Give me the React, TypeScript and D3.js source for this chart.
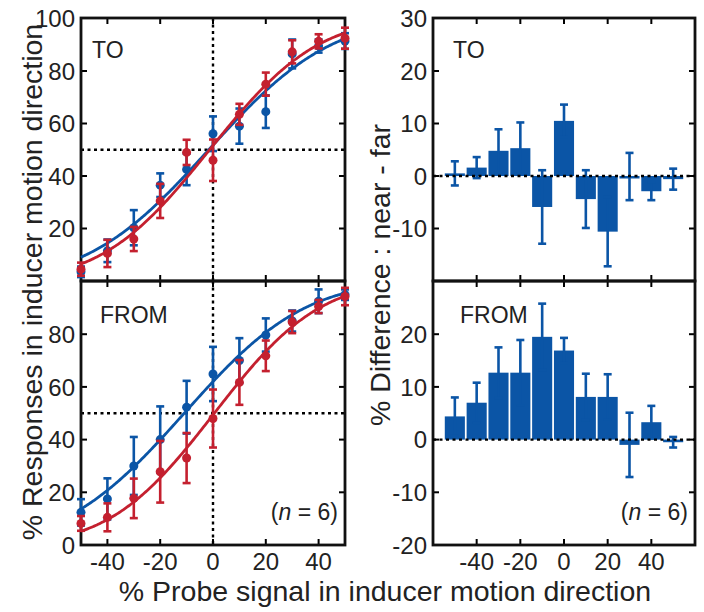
import React from 'react';
import * as d3 from 'd3';

// ---------- data ----------
const probeSignal = [-50, -40, -30, -20, -10, 0, 10, 20, 30, 40, 50];

// Left panels: % responses in inducer motion direction (blue = near, red = far)
const toBlue = [3.5, 11.5, 20.3, 36.5, 42.5, 56.1, 59, 64.5, 86.5, 89.5, 91.4];
const toBlueErr = [2, 4.3, 6.7, 4.5, 6, 6.6, 6.7, 6.2, 5.5, 2.5, 3];
const toRed = [4.5, 10.5, 16, 30.5, 49, 46, 63.5, 75, 87.3, 91.3, 92.5];
const toRedErr = [2.5, 5.2, 4.6, 6.5, 4.8, 7.9, 4, 4.4, 4.4, 2.7, 4];

const fromBlue = [12.4, 17.5, 30, 40, 52.3, 64.9, 70, 79.7, 85, 92.5, 95];
const fromBlueErr = [5, 7.8, 11, 12.6, 10, 10.3, 8.5, 6.3, 4, 4.5, 2];
const fromRed = [8.2, 10.5, 17.7, 27.8, 33, 48, 61.7, 71.8, 84.6, 90.5, 94.3];
const fromRedErr = [2.8, 5.3, 7.5, 11.7, 9.5, 11, 8.5, 5.8, 4.2, 2.5, 3.3];

// Psychometric fits (cumulative Gaussian): [mu, sigma]
const toBlueFit = [-1.6, 36.2];
const toRedFit = [-1.3, 32.1];
const fromBlueFit = [-10.9, 35.7];
const fromRedFit = [0.5, 31.1];

// Right panels: % difference near - far
const toDiff = [0.5, 1.6, 4.8, 5.3, -5.9, 10.5, -4.4, -10.6, -0.1, -2.9, -0.6];
const toDiffErr = [2.3, 2, 4.1, 4.9, 7, 3.1, 5.5, 6.6, 4.5, 1.7, 2];
const fromDiff = [4.4, 7, 12.7, 12.7, 19.5, 16.9, 8.1, 8.1, -1, 3.3, -0.5];
const fromDiffErr = [3.6, 3.8, 4.8, 6.2, 6.3, 2.4, 4.4, 4.3, 6.1, 3.1, 1];

const xTicks = [-40, -20, 0, 20, 40];
const leftYTicksTop = [20, 40, 60, 80, 100];
const leftYTicksBottom = [0, 20, 40, 60, 80];
const rightYTicksTop = [-10, 0, 10, 20, 30];
const rightYTicksBottom = [-20, -10, 0, 10, 20];

const xLabel = '% Probe signal in inducer motion direction';
const yLabelLeft = '% Responses in inducer motion direction';
const yLabelRight = '% Difference : near - far';

// ---------- style ----------
const BLUE = '#0b55a6';
const RED = '#c4202f';
const FONT = '"Liberation Sans", Arial, Helvetica, sans-serif';
const DASH = '3,3.5';

const W = 704;
const H = 612;
const LX = [81, 345];
const RX = [433, 695];
const ROWS = [[18, 281], [281, 545]];

function erf(x: number) {
  const s = x < 0 ? -1 : 1;
  const a = Math.abs(x);
  const t = 1 / (1 + 0.3275911 * a);
  const y = 1 - (((((1.061405429 * t - 1.453152027) * t) + 1.421413741) * t - 0.284496736) * t + 0.254829592) * t * Math.exp(-a * a);
  return s * y;
}
const normCdf = (z: number) => 0.5 * (1 + erf(z / Math.SQRT2));

const xL = d3.scaleLinear().domain([-50, 50]).range(LX);
const xR = d3.scaleLinear().domain([-60, 60]).range(RX);

function Ticks({ x0, x1, y0, y1, xs, ys, xScale, yScale }: any) {
  const len = 6;
  return (
    <g stroke="#000" strokeWidth={2}>
      {xs.map((v: number) => (
        <g key={'x' + v}>
          <line x1={xScale(v)} x2={xScale(v)} y1={y1} y2={y1 - len} />
          <line x1={xScale(v)} x2={xScale(v)} y1={y0} y2={y0 + len} />
        </g>
      ))}
      {ys.map((v: number) => (
        <g key={'y' + v}>
          <line x1={x0} x2={x0 + len} y1={yScale(v)} y2={yScale(v)} />
          <line x1={x1} x2={x1 - len} y1={yScale(v)} y2={yScale(v)} />
        </g>
      ))}
    </g>
  );
}

function ErrPts({ vals, errs, color, xScale, yScale }: any) {
  const cap = 4;
  return (
    <g>
      {probeSignal.map((p, i) => {
        const cx = xScale(p);
        const yt = yScale(vals[i] + errs[i]);
        const yb = yScale(vals[i] - errs[i]);
        return (
          <g key={i} stroke={color} strokeWidth={2.6}>
            <line x1={cx} x2={cx} y1={yt} y2={yb} />
            <line x1={cx - cap} x2={cx + cap} y1={yt} y2={yt} />
            <line x1={cx - cap} x2={cx + cap} y1={yb} y2={yb} />
            <circle cx={cx} cy={yScale(vals[i])} r={4.5} fill={color} stroke="none" />
          </g>
        );
      })}
    </g>
  );
}

function FitCurve({ fit, color, xScale, yScale }: any) {
  const xsamp = d3.range(-50, 50.001, 0.5);
  const line = d3
    .line<number>()
    .x((d) => xScale(d))
    .y((d) => yScale(100 * normCdf((d - fit[0]) / fit[1])));
  return <path d={line(xsamp) || ''} fill="none" stroke={color} strokeWidth={2.8} />;
}

function LeftPanel({ row, blue, blueErr, red, redErr, blueFit, redFit, label, yTickLabels, showN, showX }: any) {
  const [y0, y1] = ROWS[row];
  const y = d3.scaleLinear().domain([0, 100]).range([y1, y0 + 0.5]);
  return (
    <g>
      <line x1={xL(0)} x2={xL(0)} y1={y0} y2={y1} stroke="#000" strokeWidth={2.4} strokeDasharray={DASH} />
      <line x1={LX[0]} x2={LX[1]} y1={y(50)} y2={y(50)} stroke="#000" strokeWidth={2.4} strokeDasharray={DASH} />
      <Ticks x0={LX[0]} x1={LX[1]} y0={y0} y1={y1} xs={xTicks} ys={[20, 40, 60, 80]} xScale={xL} yScale={y} />
      <rect x={LX[0]} y={y0} width={LX[1] - LX[0]} height={y1 - y0} fill="none" stroke="#111" strokeWidth={2.8} />
      <ErrPts vals={blue} errs={blueErr} color={BLUE} xScale={xL} yScale={y} />
      <FitCurve fit={blueFit} color={BLUE} xScale={xL} yScale={y} />
      <ErrPts vals={red} errs={redErr} color={RED} xScale={xL} yScale={y} />
      <FitCurve fit={redFit} color={RED} xScale={xL} yScale={y} />
      <text x={row === 0 ? 92 : 100} y={y0 + (row === 0 ? 40 : 42)} fontSize={23} fill="#222">{label}</text>
      {yTickLabels.map((v: number) => (
        <text key={v} x={LX[0] - 6} y={y(v)} dy="0.36em" textAnchor="end" fontSize={24} fill="#222">{v}</text>
      ))}
      {showX && xTicks.map((v: number) => (
        <text key={'xl' + v} x={xL(v)} y={570} textAnchor="middle" fontSize={24} fill="#222">{v}</text>
      ))}
      {showN && (
        <text x={LX[1] - 7} y={520} textAnchor="end" fontSize={23} fill="#222">
          (<tspan fontStyle="italic">n</tspan> = 6)
        </text>
      )}
    </g>
  );
}

function RightPanel({ row, vals, errs, label, yTickLabels, showN, showX }: any) {
  const [y0, y1] = ROWS[row];
  const y = d3.scaleLinear().domain([-20, 30]).range([y1, y0 + 0.5]);
  const band = xR(10) - xR(0);
  const bw = band * 0.92;
  const cap = 4;
  return (
    <g>
      <Ticks x0={RX[0]} x1={RX[1]} y0={y0} y1={y1} xs={xTicks} ys={[-10, 0, 10, 20]} xScale={xR} yScale={y} />
      <rect x={RX[0]} y={y0} width={RX[1] - RX[0]} height={y1 - y0} fill="none" stroke="#111" strokeWidth={2.8} />
      {probeSignal.map((p, i) => {
        const cx = xR(p);
        const v = vals[i];
        const top = y(Math.max(0, v));
        const bot = y(Math.min(0, v));
        const yt = y(v + errs[i]);
        const yb = y(v - errs[i]);
        return (
          <g key={i}>
            <rect x={cx - bw / 2} y={top} width={bw} height={Math.max(2.5, bot - top)} fill={BLUE} />
            <g stroke={BLUE} strokeWidth={2.6}>
              <line x1={cx} x2={cx} y1={yt} y2={yb} />
              <line x1={cx - cap} x2={cx + cap} y1={yt} y2={yt} />
              <line x1={cx - cap} x2={cx + cap} y1={yb} y2={yb} />
            </g>
          </g>
        );
      })}
      <line x1={RX[0]} x2={RX[1]} y1={y(0)} y2={y(0)} stroke="#000" strokeWidth={2.4} strokeDasharray={DASH} />
      <text x={row === 0 ? 453 : 460} y={y0 + (row === 0 ? 40 : 42)} fontSize={23} fill="#222">{label}</text>
      {yTickLabels.map((v: number) => (
        <text key={v} x={RX[0] - 6} y={y(v)} dy="0.36em" textAnchor="end" fontSize={24} fill="#222">{v}</text>
      ))}
      {showX && xTicks.map((v: number) => (
        <text key={'xl' + v} x={xR(v)} y={570} textAnchor="middle" fontSize={24} fill="#222">{v}</text>
      ))}
      {showN && (
        <text x={RX[1] - 7} y={520} textAnchor="end" fontSize={23} fill="#222">
          (<tspan fontStyle="italic">n</tspan> = 6)
        </text>
      )}
    </g>
  );
}

export default function App() {
  return (
    <svg
      width={W}
      height={H}
      viewBox={`0 0 ${W} ${H}`}
      style={{ position: 'absolute', left: 0, top: 0, background: '#fff', fontFamily: FONT }}
    >
      <rect x={0} y={0} width={W} height={H} fill="#fff" />
      <LeftPanel row={0} blue={toBlue} blueErr={toBlueErr} red={toRed} redErr={toRedErr}
        blueFit={toBlueFit} redFit={toRedFit} label="TO" yTickLabels={leftYTicksTop} showN={false} showX={false} />
      <LeftPanel row={1} blue={fromBlue} blueErr={fromBlueErr} red={fromRed} redErr={fromRedErr}
        blueFit={fromBlueFit} redFit={fromRedFit} label="FROM" yTickLabels={leftYTicksBottom} showN={true} showX={true} />
      <RightPanel row={0} vals={toDiff} errs={toDiffErr} label="TO" yTickLabels={rightYTicksTop} showN={false} showX={false} />
      <RightPanel row={1} vals={fromDiff} errs={fromDiffErr} label="FROM" yTickLabels={rightYTicksBottom} showN={true} showX={true} />
      <text x={385} y={601} textAnchor="middle" fontSize={28.5} fill="#222">{xLabel}</text>
      <text transform="translate(42,282) rotate(-90)" textAnchor="middle" fontSize={28.5} fill="#222">{yLabelLeft}</text>
      <text transform="translate(390,275) rotate(-90)" textAnchor="middle" fontSize={28.5} fill="#222">{yLabelRight}</text>
    </svg>
  );
}
